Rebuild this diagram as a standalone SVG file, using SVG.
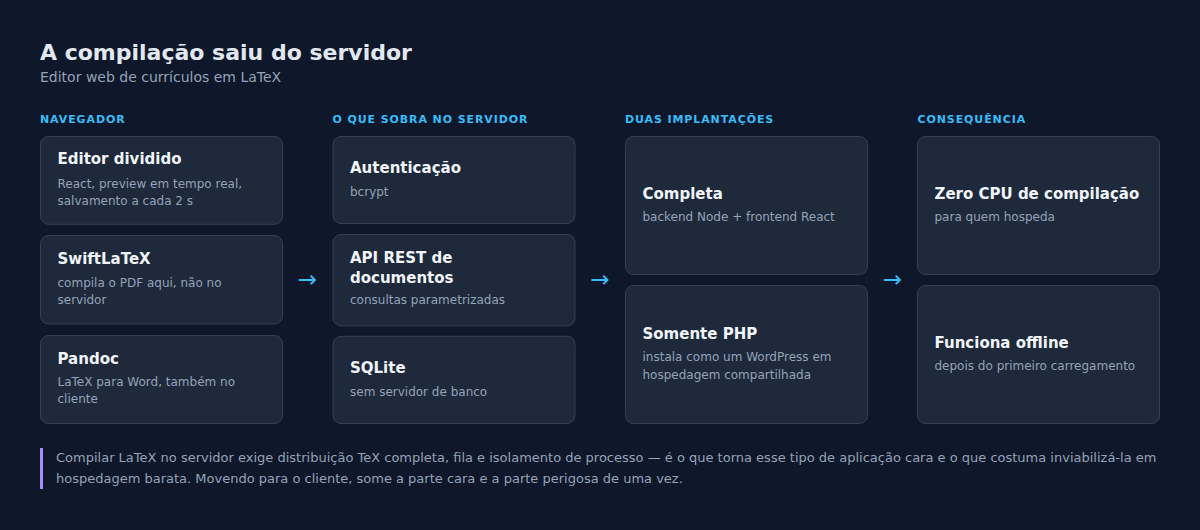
<svg xmlns="http://www.w3.org/2000/svg" width="1200" height="530" viewBox="0 0 1200 530">
  <style>
    text { font-family: "DejaVu Sans", "Liberation Sans", sans-serif; }
    .h1 { font-size: 22px; font-weight: bold; fill: #e2e8f0; }
    .sub { font-size: 14px; fill: #94a3b8; }
    .col { font-size: 11px; font-weight: bold; fill: #38bdf8; letter-spacing: 0.9px; }
    .card { fill: #1e293b; stroke: #334155; stroke-width: 1; }
    .t { font-size: 15px; font-weight: bold; fill: #f1f5f9; }
    .d { font-size: 12px; fill: #94a3b8; }
    .arr { font-size: 23px; fill: #38bdf8; text-anchor: middle; }
    .foot { font-size: 13px; fill: #94a3b8; }
  </style>
  <rect x="0" y="0" width="1200" height="530" fill="#0f172a"/>

  <g id="header">
    <text class="h1" x="40" y="60">A compilação saiu do servidor</text>
    <text class="sub" x="40" y="81.5">Editor web de currículos em LaTeX</text>
  </g>

  <g id="column-headers">
    <text class="col" x="40" y="123">NAVEGADOR</text>
    <text class="col" x="332.5" y="123">O QUE SOBRA NO SERVIDOR</text>
    <text class="col" x="625" y="123">DUAS IMPLANTAÇÕES</text>
    <text class="col" x="917.5" y="123">CONSEQUÊNCIA</text>
  </g>

  <!-- Column 1: Navegador -->
  <g id="editor-dividido">
    <rect class="card" x="40.5" y="136.5" width="242" height="87.8" rx="8"/>
    <text class="t" x="57.5" y="164.3">Editor dividido</text>
    <text class="d" x="57.5" y="187.7">React, preview em tempo real,</text>
    <text class="d" x="57.5" y="204.5">salvamento a cada 2 s</text>
  </g>
  <g id="swiftlatex">
    <rect class="card" x="40.5" y="235.5" width="242" height="88.5" rx="8"/>
    <text class="t" x="57.5" y="263.6">SwiftLaTeX</text>
    <text class="d" x="57.5" y="287.2">compila o PDF aqui, não no</text>
    <text class="d" x="57.5" y="304.1">servidor</text>
  </g>
  <g id="pandoc">
    <rect class="card" x="40.5" y="335.5" width="242" height="88" rx="8"/>
    <text class="t" x="57.5" y="363.7">Pandoc</text>
    <text class="d" x="57.5" y="385.7">LaTeX para Word, também no</text>
    <text class="d" x="57.5" y="402.5">cliente</text>
  </g>

  <!-- Column 2: O que sobra no servidor -->
  <g id="autenticacao">
    <rect class="card" x="333" y="136.5" width="242" height="87" rx="8"/>
    <text class="t" x="350" y="172.7">Autenticação</text>
    <text class="d" x="350" y="195.7">bcrypt</text>
  </g>
  <g id="api-rest">
    <rect class="card" x="333" y="234.5" width="242" height="91.3" rx="8"/>
    <text class="t" x="350" y="263.3">API REST de</text>
    <text class="t" x="350" y="282.7">documentos</text>
    <text class="d" x="350" y="304">consultas parametrizadas</text>
  </g>
  <g id="sqlite">
    <rect class="card" x="333" y="336.3" width="242" height="87.2" rx="8"/>
    <text class="t" x="350" y="372.9">SQLite</text>
    <text class="d" x="350" y="395.5">sem servidor de banco</text>
  </g>

  <!-- Column 3: Duas implantações -->
  <g id="completa">
    <rect class="card" x="625.5" y="136.5" width="242" height="138" rx="8"/>
    <text class="t" x="642.5" y="199">Completa</text>
    <text class="d" x="642.5" y="221">backend Node + frontend React</text>
  </g>
  <g id="somente-php">
    <rect class="card" x="625.5" y="285.5" width="242" height="138" rx="8"/>
    <text class="t" x="642.5" y="339.3">Somente PHP</text>
    <text class="d" x="642.5" y="361.3">instala como um WordPress em</text>
    <text class="d" x="642.5" y="378.6">hospedagem compartilhada</text>
  </g>

  <!-- Column 4: Consequência -->
  <g id="zero-cpu">
    <rect class="card" x="917.5" y="136.5" width="242" height="138" rx="8"/>
    <text class="t" x="934.5" y="199">Zero CPU de compilação</text>
    <text class="d" x="934.5" y="220.7">para quem hospeda</text>
  </g>
  <g id="funciona-offline">
    <rect class="card" x="917.5" y="285.5" width="242" height="138" rx="8"/>
    <text class="t" x="934.5" y="347.5">Funciona offline</text>
    <text class="d" x="934.5" y="370">depois do primeiro carregamento</text>
  </g>

  <g id="connectors">
    <text class="arr" x="307.5" y="286.5">→</text>
    <text class="arr" x="600" y="286.5">→</text>
    <text class="arr" x="892.3" y="286.5">→</text>
  </g>

  <g id="footer-note">
    <rect x="40" y="448" width="3" height="41" fill="#a78bfa"/>
    <text class="foot" x="56" y="461.7">Compilar LaTeX no servidor exige distribuição TeX completa, fila e isolamento de processo — é o que torna esse tipo de aplicação cara e o que costuma inviabilizá-la em</text>
    <text class="foot" x="56" y="482.7">hospedagem barata. Movendo para o cliente, some a parte cara e a parte perigosa de uma vez.</text>
  </g>
</svg>
